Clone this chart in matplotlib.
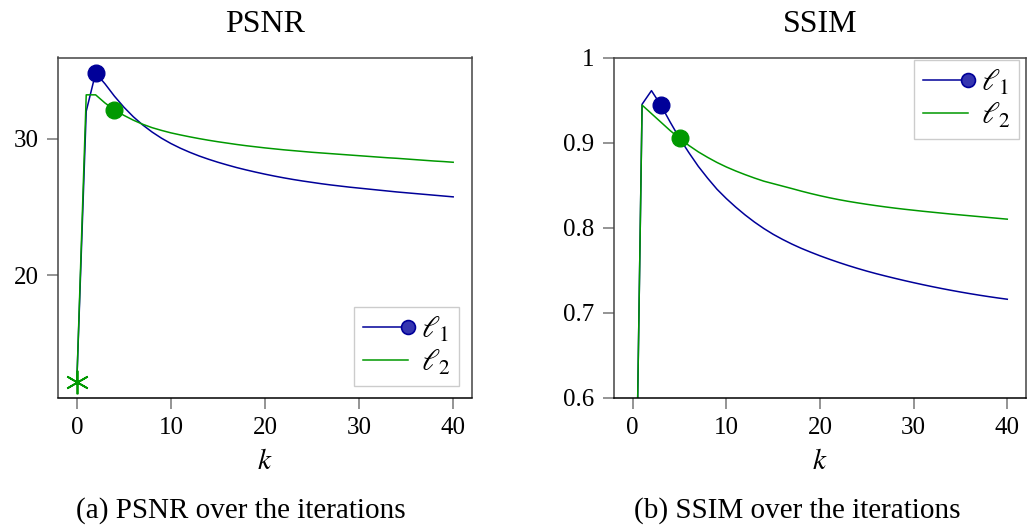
import matplotlib
matplotlib.use('Agg')
import matplotlib.pyplot as plt
from matplotlib.lines import Line2D
from matplotlib.legend_handler import HandlerLine2D

plt.rcParams['font.family'] = ['Liberation Serif', 'DejaVu Serif']
plt.rcParams['mathtext.fontset'] = 'stix'

# iterations
k = list(range(41))

# PSNR per iteration
psnr_l1 = [12.2, 32.0, 34.8, 34.0, 33.1, 32.3, 31.6, 31.0, 30.48, 30.03,
           29.64, 29.3, 29.0, 28.73, 28.49, 28.27, 28.07, 27.88, 27.71, 27.55,
           27.4, 27.26, 27.13, 27.01, 26.9, 26.8, 26.7, 26.61, 26.53, 26.45,
           26.38, 26.31, 26.24, 26.17, 26.1, 26.04, 25.98, 25.92, 25.86, 25.8,
           25.74]
psnr_l2 = [12.2, 33.2, 33.2, 32.6, 32.1, 31.7, 31.35, 31.05, 30.8, 30.6,
           30.42, 30.27, 30.13, 30.0, 29.88, 29.77, 29.67, 29.57, 29.48, 29.4,
           29.32, 29.25, 29.18, 29.12, 29.06, 29.0, 28.95, 28.9, 28.85, 28.8,
           28.75, 28.7, 28.65, 28.6, 28.56, 28.51, 28.46, 28.41, 28.36, 28.32,
           28.27]

# SSIM per iteration
ssim_l1 = [0.21, 0.945, 0.961, 0.944, 0.924, 0.905, 0.888, 0.872, 0.858, 0.845,
           0.834, 0.824, 0.8148, 0.8064, 0.7988, 0.792, 0.786, 0.7805, 0.7755, 0.771,
           0.7667, 0.7627, 0.7589, 0.7553, 0.7519, 0.7487, 0.7457, 0.7429, 0.7402, 0.7376,
           0.7351, 0.7327, 0.7304, 0.7282, 0.7261, 0.7241, 0.7222, 0.7204, 0.7187, 0.7171,
           0.7156]
ssim_l2 = [0.21, 0.944, 0.934, 0.924, 0.914, 0.905, 0.8965, 0.889, 0.8825, 0.8765,
           0.8712, 0.8665, 0.8622, 0.8582, 0.8545, 0.8516, 0.8487, 0.8458, 0.8428, 0.84,
           0.8374, 0.835, 0.8328, 0.8308, 0.829, 0.8273, 0.8257, 0.8242, 0.8228, 0.8215,
           0.8203, 0.8191, 0.818, 0.8169, 0.8158, 0.8148, 0.8138, 0.8128, 0.8118, 0.8108,
           0.8098]

# iteration picked by the stopping rule
psnr_stop = {'l1': 2, 'l2': 4}
ssim_stop = {'l1': 3, 'l2': 5}

BLUE = '#000099'
GREEN = '#009900'


class MarkerAtEnd(HandlerLine2D):
    """legend entry: line with the marker sitting at its right end"""
    def create_artists(self, legend, orig_handle, xdescent, ydescent,
                       width, height, fontsize, trans):
        y = height / 2 - ydescent
        line = Line2D([-xdescent, width - xdescent - 5], [y, y],
                      color=orig_handle.get_color(), lw=orig_handle.get_linewidth())
        line.set_transform(trans)
        arts = [line]
        if orig_handle.get_marker() not in (None, 'None', '', ' '):
            m = Line2D([width - xdescent - 5], [y], ls='none', marker='o', ms=10,
                       mfc='#3535b0', mec=BLUE, mew=1.2)
            m.set_transform(trans)
            arts.append(m)
        return arts


def panel(ax, y1, y2, stop, title, show_start):
    ax.plot(k, y1, color=BLUE, lw=1.1)
    ax.plot(k, y2, color=GREEN, lw=1.1)
    ax.plot(k[stop['l1']], y1[stop['l1']], 'o', color=BLUE, ms=12)
    ax.plot(k[stop['l2']], y2[stop['l2']], 'o', color=GREEN, ms=12)
    if show_start:
        ax.plot(k[0], y2[0], ls='none', marker=(6, 2, 0), color=GREEN, ms=17, mew=1.3)
    ax.set_xlim(-2, 42)
    ax.set_xticks([0, 10, 20, 30, 40])
    ax.set_xlabel(r'$k$', fontsize=21, labelpad=7)
    ax.set_title(title, fontsize=23, pad=18)
    ax.tick_params(direction='out', length=8, width=1.1, color='#777777',
                   labelsize=18, pad=6)
    for s in ax.spines.values():
        s.set_color('#444444')
        s.set_linewidth(1.1)
    ax.spines['bottom'].set_color('black')
    h1 = Line2D([], [], color=BLUE, lw=1.1, marker='o')
    h2 = Line2D([], [], color=GREEN, lw=1.1)
    return h1, h2


def add_legend(ax, h1, h2, loc, anchor):
    leg = ax.legend([h1, h2], [r'$\ell_1$', r'$\ell_2$'], loc=loc,
                    bbox_to_anchor=anchor, bbox_transform=fig.transFigure,
                    handler_map={h1: MarkerAtEnd(), h2: MarkerAtEnd()},
                    fontsize=22, fancybox=False, framealpha=1, edgecolor='#cccccc',
                    handlelength=1.7, handletextpad=0.2, labelspacing=0.12,
                    borderpad=0.28, borderaxespad=0)
    leg.get_frame().set_linewidth(1.0)


fig = plt.figure(figsize=(10.27, 5.26), dpi=100)
ax1 = fig.add_axes([58 / 1027, 1 - 397.5 / 526, 414 / 1027, 340 / 526])
ax2 = fig.add_axes([614 / 1027, 1 - 397.5 / 526, 412 / 1027, 340 / 526])

h1, h2 = panel(ax1, psnr_l1, psnr_l2, psnr_stop, 'PSNR', True)
ax1.set_ylim(11.07, 35.93)
ax1.set_yticks([20, 30])
add_legend(ax1, h1, h2, 'lower right', (459 / 1027, 1 - 386 / 526))

h1, h2 = panel(ax2, ssim_l1, ssim_l2, ssim_stop, 'SSIM', False)
ax2.set_ylim(0.6, 1.0)
ax2.set_yticks([0.6, 0.7, 0.8, 0.9, 1.0])
ax2.set_yticklabels(['0.6', '0.7', '0.8', '0.9', '1'])
add_legend(ax2, h1, h2, 'upper right', (1019 / 1027, 1 - 60 / 526))

fig.text(241 / 1027, 1 - 511 / 526, '(a) PSNR over the iterations',
         ha='center', va='center', fontsize=21)
fig.text(797 / 1027, 1 - 511 / 526, '(b) SSIM over the iterations',
         ha='center', va='center', fontsize=21)

fig.savefig('out.png', dpi=100)
plt.close(fig)
